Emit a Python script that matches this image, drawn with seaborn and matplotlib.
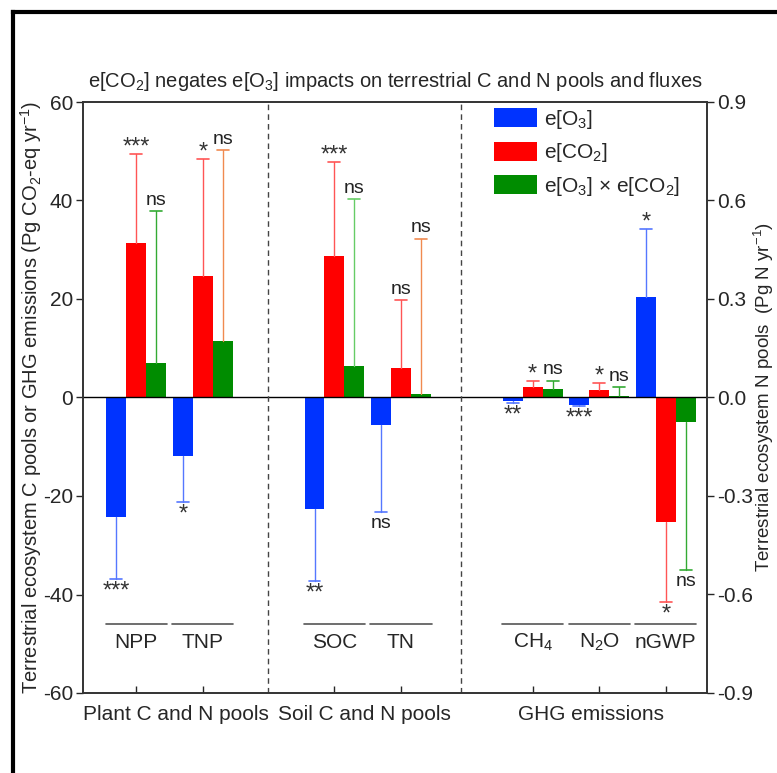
import matplotlib
matplotlib.use("Agg")
import matplotlib.pyplot as plt
from matplotlib.patches import Patch
from matplotlib.lines import Line2D
import seaborn as sns
import pandas as pd

# data (left axis units, Pg CO2-eq / Pg C)
groups = ["NPP", "TNP", "SOC", "TN", "CH4", "N2O", "nGWP"]
group_labels = ["NPP", "TNP", "SOC", "TN", "CH$_4$", "N$_2$O", "nGWP"]
group_pos = [0.80, 1.80, 3.78, 4.78, 6.76, 7.76, 8.76]
treatments = ["e[O$_3$]", "e[CO$_2$]", "e[O$_3$] \u00d7 e[CO$_2$]"]

o3 = [-24.3, -11.9, -22.6, -5.5, -0.7, -1.5, 20.5]
o3_cap = [-36.9, -21.3, -37.3, -23.2, -1.1, -1.8, 34.2]
co2 = [31.3, 24.6, 28.8, 6.0, 2.2, 1.6, -25.3]
co2_cap = [49.5, 48.5, 47.9, 19.7, 3.4, 3.0, -41.6]
inter = [7.1, 11.5, 6.3, 0.7, 1.7, 0.3, -4.9]
inter_cap = [37.8, 50.2, 40.3, 32.2, 3.4, 2.1, -35.1]

sig_o3 = ["***", "*", "**", "ns", "**", "***", "*"]
sig_co2 = ["***", "*", "***", "ns", "*", "*", "*"]
sig_inter = ["ns", "ns", "ns", "ns", "ns", "ns", "ns"]

sections = ["Plant C and N pools", "Soil C and N pools", "GHG emissions"]
section_x = [1.39, 4.23, 7.64]
dividers = [2.78, 5.68]

bar_colors = ["#0033ff", "#ff0000", "#008c00"]
err_colors = [["#5577ff"] * 7,
              ["#ff5555"] * 7,
              ["#33aa33", "#f08a50", "#66cc66", "#f08a50", "#33aa33", "#33aa33", "#33aa33"]]

sns.set_style("ticks")
plt.rcParams["font.family"] = ["Liberation Sans", "DejaVu Sans"]
plt.rcParams["mathtext.default"] = "regular"
plt.rcParams["axes.unicode_minus"] = False

FS = 15

df = pd.DataFrame({
    "pos": group_pos * 3,
    "value": o3 + co2 + inter,
    "trt": [treatments[0]] * 7 + [treatments[1]] * 7 + [treatments[2]] * 7,
})

fig = plt.figure(figsize=(7.77, 7.73), dpi=100)
ax = fig.add_axes([83 / 777, 1 - 693 / 773, 624 / 777, 591 / 773])

sns.barplot(data=df, x="pos", y="value", hue="trt", hue_order=treatments,
            palette=dict(zip(treatments, bar_colors)), native_scale=True,
            width=0.9, saturation=1, errorbar=None, legend=False,
            linewidth=0, ax=ax)

vals = [o3, co2, inter]
caps = [o3_cap, co2_cap, inter_cap]
sigs = [sig_o3, sig_co2, sig_inter]
for k, cont in enumerate(ax.containers):
    for i, bar in enumerate(cont):
        xc = bar.get_x() + bar.get_width() / 2
        v, c = vals[k][i], caps[k][i]
        ax.plot([xc, xc], [v, c], color=err_colors[k][i], lw=1)
        ax.plot([xc - 0.09, xc + 0.09], [c, c], color=err_colors[k][i], lw=1.2)
        s = sigs[k][i]
        if s == "ns":
            if c > 0:
                ax.text(xc, c + 0.5, s, ha="center", va="bottom", fontsize=14, color="#222222")
            else:
                ax.text(xc, c - 0.6, s, ha="center", va="top", fontsize=14, color="#222222")
        else:
            if c > 0:
                ax.text(xc, c - 1.0, s, ha="center", va="bottom", fontsize=17, color="#333333")
            else:
                ax.text(xc, c - 0.3, s, ha="center", va="top", fontsize=17, color="#333333")

ax.axhline(0, color="black", lw=1)
for d in dividers:
    ax.axvline(d, color="#444444", lw=1, ls=(0, (4, 3)))

for p, lab in zip(group_pos, group_labels):
    ax.plot([p - 0.46, p + 0.46], [-45.9, -45.9], color="#555555", lw=1.2)
    ax.text(p, -49.8, lab, ha="center", va="center", fontsize=FS)

for sx, lab in zip(section_x, sections):
    ax.text(sx, -0.036, lab, ha="center", va="center", fontsize=FS,
            transform=ax.get_xaxis_transform())

ax.set_xlim(0, 9.38)
ax.set_ylim(-60, 60)
ax.set_yticks([-60, -40, -20, 0, 20, 40, 60])
ax.set_xticks(group_pos)
ax.set_xticklabels([])
ax.set_xlabel("")
ax.set_ylabel("Terrestrial ecosystem C pools or GHG emissions (Pg CO$_2$-eq yr$^{-1}$)",
              fontsize=14.5, va="center")
ax.yaxis.set_label_coords(-0.083, 0.5)
ax.tick_params(axis="y", direction="out", length=5, labelsize=FS, width=1, pad=2)
ax.tick_params(axis="x", direction="in", length=5, width=1)
for sp in ax.spines.values():
    sp.set_visible(True)
    sp.set_color("#333333")
    sp.set_linewidth(1.2)

ax2 = ax.twinx()
ax2.set_ylim(-0.9, 0.9)
ax2.set_yticks([-0.9, -0.6, -0.3, 0.0, 0.3, 0.6, 0.9])
ax2.set_yticklabels(["%.1f" % t for t in [-0.9, -0.6, -0.3, 0.0, 0.3, 0.6, 0.9]])
ax2.tick_params(axis="y", direction="out", length=5, labelsize=FS, width=1, pad=2)
ax2.set_ylabel("Terrestrial ecosystem N pools  (Pg N yr$^{-1}$)", fontsize=13.5,
               rotation=90, va="center")
ax2.yaxis.set_label_coords(1.091, 0.5)
for sp in ax2.spines.values():
    sp.set_color("#333333")
    sp.set_linewidth(1.2)

ax.set_title("e[CO$_2$] negates e[O$_3$] impacts on terrestrial C and N pools and fluxes",
             fontsize=14.5, pad=11)

handles = [Patch(facecolor=c, edgecolor="none") for c in bar_colors]
ax.legend(handles, treatments, loc="upper left", bbox_to_anchor=(0.658, 0.99),
          borderaxespad=0, borderpad=0, frameon=False, fontsize=FS,
          handlelength=2.1, handleheight=1.05, handletextpad=0.3, labelspacing=0.5)

# outer frame seen in the source image
fig.add_artist(Line2D([13 / 777, 13 / 777], [0, 1 - 12 / 773], color="black", lw=3,
                      transform=fig.transFigure, solid_capstyle="projecting"))
fig.add_artist(Line2D([13 / 777, 1], [1 - 12 / 773, 1 - 12 / 773], color="black", lw=3,
                      transform=fig.transFigure, solid_capstyle="projecting"))

fig.savefig("out.png", dpi=100)
